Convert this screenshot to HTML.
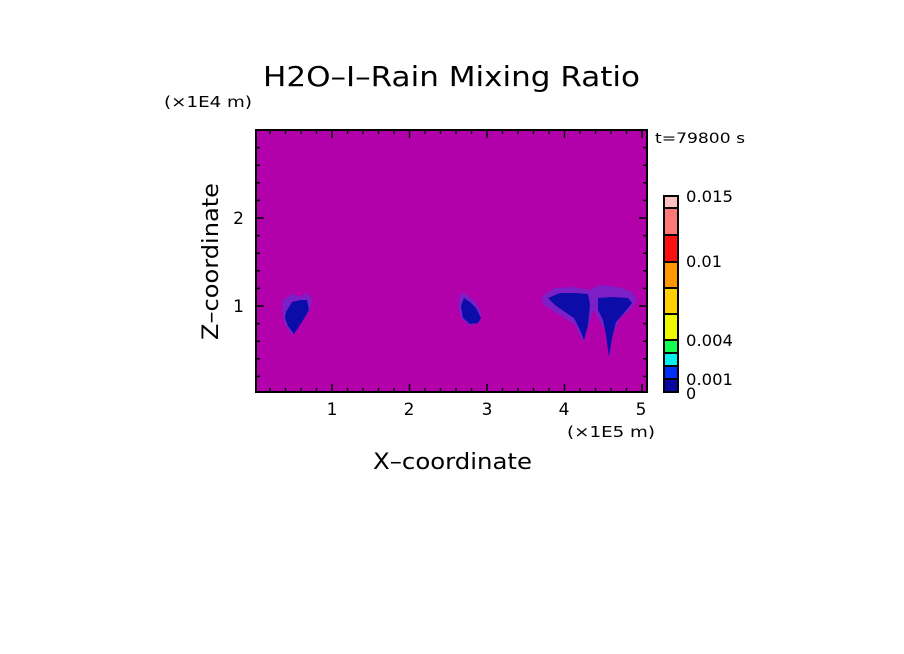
<!DOCTYPE html>
<html><head><style>body{margin:0;background:#fff}svg{display:block}text{font-family:"DejaVu Sans","Liberation Sans",sans-serif}</style></head>
<body>
<svg width="904" height="654" xmlns="http://www.w3.org/2000/svg">
<rect width="904" height="654" fill="#fff"/>
<text x="263" y="86" font-size="28" textLength="377" lengthAdjust="spacingAndGlyphs" fill="#000">H2O–I–Rain Mixing Ratio</text>
<text x="164" y="107" font-size="15" textLength="88" lengthAdjust="spacingAndGlyphs" fill="#000">(×1E4 m)</text>
<text x="655" y="143" font-size="14" textLength="90" lengthAdjust="spacingAndGlyphs" fill="#000">t=79800 s</text>
<rect x="256" y="130" width="391" height="262" fill="#b200aa"/>
<g fill="#6a2ad0" opacity="0.75">
<polygon points="283,300 292,294 300,297 306,293 312,298 310,310 302,322 292,335 285,325 282,312"/>
<polygon points="459,298 463,292 468,296 474,300 481,312 480,322 470,326 461,318 458,306"/>
<polygon points="542,296 555,288 575,287 590,290 600,285 618,287 632,292 637,300 630,310 620,318 613,335 609,357 605,330 598,318 593,310 588,328 583,342 575,325 565,318 552,310 543,304"/>
</g>
<g fill="#0c0ca8">
<polygon points="286,312 292,302 300,300 307,300 309,310 302,322 294,334 288,326 285,318"/>
<polygon points="461,306 464,298 470,302 476,308 481,318 478,323 470,324 463,318"/>
<polygon points="548,298 560,293 575,293 588,294 590,305 588,325 584,340 580,330 574,318 565,312 555,305"/>
<polygon points="598,298 612,297 628,298 632,303 624,313 616,322 612,338 609,357 606,335 603,320 598,310"/>
</g>
<rect x="256" y="130" width="391" height="262" fill="none" stroke="#000" stroke-width="2"/>
<g stroke="#000" stroke-width="1.5">
<path d="M270,392v-4M285.5,392v-4M301,392v-4M316.5,392v-4M347.5,392v-4M363,392v-4M378.5,392v-4M394,392v-4M425,392v-4M440.5,392v-4M456,392v-4M471.5,392v-4M502.5,392v-4M518,392v-4M533.5,392v-4M549,392v-4M580,392v-4M595.5,392v-4M611,392v-4M626.5,392v-4"/>
<path d="M270,130v4M285.5,130v4M301,130v4M316.5,130v4M347.5,130v4M363,130v4M378.5,130v4M394,130v4M425,130v4M440.5,130v4M456,130v4M471.5,130v4M502.5,130v4M518,130v4M533.5,130v4M549,130v4M580,130v4M595.5,130v4M611,130v4M626.5,130v4"/>
<path d="M332,392v-8M409.5,392v-8M487,392v-8M564.5,392v-8M642,392v-8M332,130v8M409.5,130v8M487,130v8M564.5,130v8M642,130v8"/>
<path d="M256,376.4h4M256,358.8h4M256,341.2h4M256,323.6h4M256,288.4h4M256,270.8h4M256,253.2h4M256,235.6h4M256,200.4h4M256,182.8h4M256,165.2h4M256,147.6h4"/>
<path d="M647,376.4h-4M647,358.8h-4M647,341.2h-4M647,323.6h-4M647,288.4h-4M647,270.8h-4M647,253.2h-4M647,235.6h-4M647,200.4h-4M647,182.8h-4M647,165.2h-4M647,147.6h-4"/>
<path d="M256,306h8M256,218h8M647,306h-8M647,218h-8"/>
</g>
<g font-size="17" fill="#000" text-anchor="middle">
<text x="332" y="415">1</text><text x="409" y="415">2</text><text x="487" y="415">3</text><text x="564" y="415">4</text><text x="641" y="415">5</text>
</g>
<text x="244" y="312" font-size="17" text-anchor="end">1</text>
<text x="244" y="224" font-size="17" text-anchor="end">2</text>
<text x="567" y="437" font-size="15" textLength="88" lengthAdjust="spacingAndGlyphs">(×1E5 m)</text>
<text x="373" y="469" font-size="22" textLength="159" lengthAdjust="spacingAndGlyphs">X–coordinate</text>
<text transform="translate(218,340) rotate(-90)" font-size="22" textLength="157" lengthAdjust="spacingAndGlyphs">Z–coordinate</text>
<rect x="664" y="196" width="14" height="12" fill="#ffc0c0"/>
<rect x="664" y="208" width="14" height="27" fill="#ff7878"/>
<rect x="664" y="235" width="14" height="27" fill="#ff1010"/>
<rect x="664" y="262" width="14" height="26" fill="#ff9800"/>
<rect x="664" y="288" width="14" height="26" fill="#ffd000"/>
<rect x="664" y="314" width="14" height="26" fill="#f0f800"/>
<rect x="664" y="340" width="14" height="13" fill="#10ff50"/>
<rect x="664" y="353" width="14" height="13" fill="#00f0f0"/>
<rect x="664" y="366" width="14" height="13" fill="#0030f8"/>
<rect x="664" y="379" width="14" height="13" fill="#0808a0"/>
<g stroke="#000" stroke-width="2" fill="none">
<rect x="664" y="196" width="14" height="196"/>
<path d="M664,208h14M664,235h14M664,262h14M664,288h14M664,314h14M664,340h14M664,353h14M664,366h14M664,379h14"/>
</g>
<g font-size="16" fill="#000">
<text x="686" y="202" textLength="47" lengthAdjust="spacingAndGlyphs">0.015</text><text x="686" y="267" textLength="36" lengthAdjust="spacingAndGlyphs">0.01</text><text x="686" y="346" textLength="47" lengthAdjust="spacingAndGlyphs">0.004</text><text x="686" y="385" textLength="47" lengthAdjust="spacingAndGlyphs">0.001</text><text x="686" y="399">0</text>
</g>
</svg>
</body></html>
